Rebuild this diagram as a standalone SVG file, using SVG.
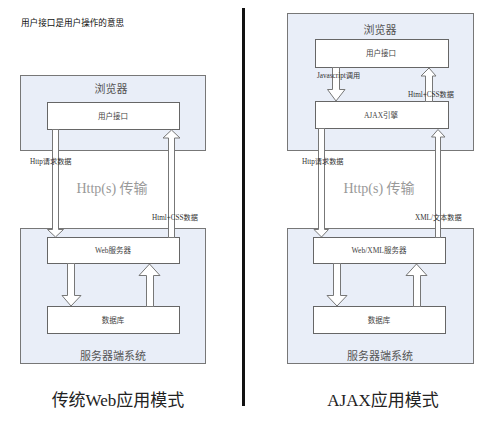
<svg xmlns="http://www.w3.org/2000/svg" width="489" height="429" viewBox="0 0 489 429">
<style>
.outer{fill:#e9eef8;stroke:#777;stroke-width:1}
.inner{fill:#fff;stroke:#666;stroke-width:1}
.arr{fill:#fff;stroke:#777;stroke-width:1}
text{font-family:"Liberation Serif","Noto Sans CJK SC",serif;fill:#333}
.t{font-size:11px;fill:#555;text-anchor:middle}
.n{font-size:7.5px;text-anchor:middle;fill:#444}
.l{font-size:7.2px;fill:#333}
.big{font-size:14px;fill:#999;text-anchor:middle}
.cap{font-size:17px;fill:#222;text-anchor:middle}
</style>
<rect width="489" height="429" fill="#fff"/>
<text x="21" y="26" style="font-family:'Liberation Sans','Noto Sans CJK SC',sans-serif;font-size:8.6px;fill:#111">用户接口是用户操作的意思</text>
<line x1="243.5" y1="8" x2="243.5" y2="406" stroke="#111" stroke-width="3"/>

<g id="left-browser"><rect class="outer" x="20.5" y="75.5" width="185" height="75"/><text class="t" x="111" y="93">浏览器</text></g>
<g id="left-ui"><rect class="inner" x="47.5" y="102.5" width="132" height="27"/><text class="n" x="113" y="119">用户接口</text></g>
<g id="left-server"><rect class="outer" x="20.5" y="228.5" width="185" height="135"/><text class="t" x="113" y="360">服务器端系统</text></g>
<g id="left-web"><rect class="inner" x="47.5" y="237.5" width="132" height="26"/><text class="n" x="113" y="253">Web服务器</text></g>
<g id="left-db"><rect class="inner" x="47.5" y="306.5" width="132" height="27"/><text class="n" x="113" y="323">数据库</text></g>

<g id="right-browser"><rect class="outer" x="287.5" y="13.5" width="186" height="137"/><text class="t" x="380" y="34">浏览器</text></g>
<g id="right-ui"><rect class="inner" x="315.5" y="39.5" width="133" height="28"/><text class="n" x="381" y="56">用户接口</text></g>
<g id="right-ajax"><rect class="inner" x="315.5" y="101.5" width="133" height="27"/><text class="n" x="381" y="118">AJAX引擎</text></g>
<g id="right-server"><rect class="outer" x="287.5" y="228.5" width="186" height="135"/><text class="t" x="380" y="360">服务器端系统</text></g>
<g id="right-web"><rect class="inner" x="313.5" y="237.5" width="132" height="26"/><text class="n" x="379" y="253">Web/XML服务器</text></g>
<g id="right-db"><rect class="inner" x="313.5" y="306.5" width="132" height="27"/><text class="n" x="379" y="323">数据库</text></g>

<g id="connectors">
<polygon class="arr" points="52.5,129.5 58.5,129.5 58.5,229.5 63.5,229.5 55.5,237 47.5,229.5 52.5,229.5"/>
<polygon class="arr" points="168.5,237.5 174.5,237.5 174.5,138 180,138 171.5,130 163,138 168.5,138"/>
<polygon class="arr" points="67.5,263.5 74.5,263.5 74.5,295.5 81,295.5 71,306 62,295.5 67.5,295.5"/>
<polygon class="arr" points="146.5,306.5 153.5,306.5 153.5,275.5 160,275.5 149.5,264 139,275.5 146.5,275.5"/>

<polygon class="arr" points="332.5,67.5 339.5,67.5 339.5,89.5 345,89.5 336,101 327.5,89.5 332.5,89.5"/>
<polygon class="arr" points="425.5,101.5 432.5,101.5 432.5,76 436,76 429,68 421,76 425.5,76"/>
<polygon class="arr" points="318.5,128.5 324.5,128.5 324.5,229.5 328.5,229.5 321.5,237 314,229.5 318.5,229.5"/>
<polygon class="arr" points="435.5,237.5 440.5,237.5 440.5,137 445,137 438,129.5 431.5,137 435.5,137"/>
<polygon class="arr" points="333.5,263.5 340.5,263.5 340.5,295.5 347,295.5 337,306 327,295.5 333.5,295.5"/>
<polygon class="arr" points="413.5,306.5 420.5,306.5 420.5,275.5 427,275.5 416.5,264 406,275.5 413.5,275.5"/>
</g>

<text class="l" x="30" y="164">Http请求数据</text>
<text class="big" x="112" y="193">Http(s) 传输</text>
<text class="l" x="152" y="220">Html+CSS数据</text>

<text class="l" x="317" y="78">Javascript调用</text>
<text class="l" x="408" y="97">Html+CSS数据</text>
<text class="l" x="302" y="164">Http请求数据</text>
<text class="big" x="379" y="193">Http(s) 传输</text>
<text class="l" x="415" y="220">XML/文本数据</text>

<text class="cap" x="118" y="406">传统Web应用模式</text>
<text class="cap" x="383" y="406">AJAX应用模式</text>
</svg>
